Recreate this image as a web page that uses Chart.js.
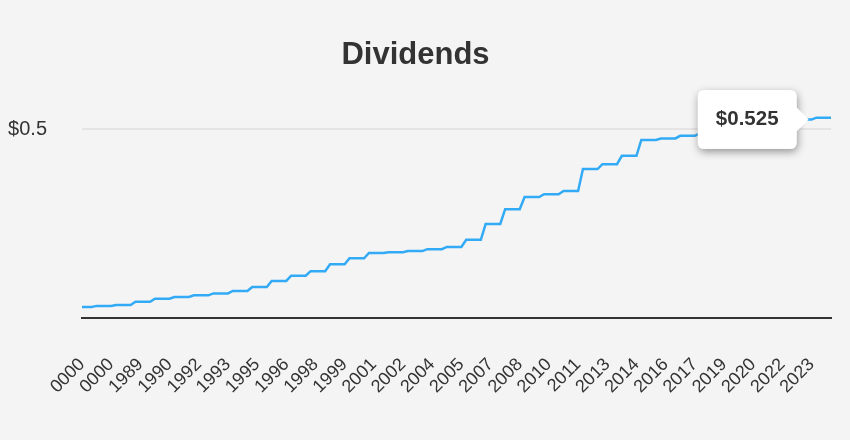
<!DOCTYPE html>
<html>
<head>
<meta charset="utf-8">
<script src="https://cdn.jsdelivr.net/npm/chart.js@4.4.1/dist/chart.umd.min.js"></script>
<style>
  html, body { margin: 0; padding: 0; background: #f4f4f4; }
  #wrap { width: 850px; height: 440px; }
</style>
</head>
<body>
<div id="wrap"><canvas id="c" width="850" height="440"></canvas></div>
<script>
const titleText = 'Dividends';

const labels = [
  '0000','0000','0000','0000','0000','0000','0000','0000','0000','0000','0000','0000',
  '1989','1989','1989','1989','1990','1990','1990','1990','1991','1991','1991','1991',
  '1992','1992','1992','1992','1993','1993','1993','1993','1994','1994','1994','1994',
  '1995','1995','1995','1995','1996','1996','1996','1996','1997','1997','1997','1997',
  '1998','1998','1998','1998','1999','1999','1999','1999','2000','2000','2000','2000',
  '2001','2001','2001','2001','2002','2002','2002','2002','2003','2003','2003','2003',
  '2004','2004','2004','2004','2005','2005','2005','2005','2006','2006','2006','2006',
  '2007','2007','2007','2007','2008','2008','2008','2008','2009','2009','2009','2009',
  '2010','2010','2010','2010','2011','2011','2011','2011','2012','2012','2012','2012',
  '2013','2013','2013','2013','2014','2014','2014','2014','2015','2015','2015','2015',
  '2016','2016','2016','2016','2017','2017','2017','2017','2018','2018','2018','2018',
  '2019','2019','2019','2019','2020','2020','2020','2020','2021','2021','2021','2021',
  '2022','2022','2022','2022','2023','2023','2023','2023','2024','2024','2024'
];

const dividends = [
  0.029, 0.029, 0.029,
  0.032, 0.032, 0.032, 0.032,
  0.0345, 0.0345, 0.0345, 0.0345,
  0.043, 0.043, 0.043, 0.043,
  0.051, 0.051, 0.051, 0.051,
  0.0555, 0.0555, 0.0555, 0.0555,
  0.06, 0.06, 0.06, 0.06,
  0.065, 0.065, 0.065, 0.065,
  0.0715, 0.0715, 0.0715, 0.0715,
  0.082, 0.082, 0.082, 0.082,
  0.098, 0.098, 0.098, 0.098,
  0.112, 0.112, 0.112, 0.112,
  0.124, 0.124, 0.124, 0.124,
  0.142, 0.142, 0.142, 0.142,
  0.158, 0.158, 0.158, 0.158,
  0.172, 0.172, 0.172, 0.172,
  0.174, 0.174, 0.174, 0.174,
  0.177, 0.177, 0.177, 0.177,
  0.182, 0.182, 0.182, 0.182,
  0.188, 0.188, 0.188, 0.188,
  0.207, 0.207, 0.207, 0.207,
  0.249, 0.249, 0.249, 0.249,
  0.288, 0.288, 0.288, 0.288,
  0.32, 0.32, 0.32, 0.32,
  0.3275, 0.3275, 0.3275, 0.3275,
  0.336, 0.336, 0.336, 0.336,
  0.394, 0.394, 0.394, 0.394,
  0.407, 0.407, 0.407, 0.407,
  0.429, 0.429, 0.429, 0.429,
  0.471, 0.471, 0.471, 0.471,
  0.475, 0.475, 0.475, 0.475,
  0.482, 0.482, 0.482, 0.482,
  0.488, 0.488, 0.488, 0.488,
  0.495, 0.495, 0.495, 0.495,
  0.503, 0.503, 0.503, 0.503,
  0.51, 0.51, 0.51, 0.51,
  0.518, 0.518, 0.518, 0.518,
  0.525, 0.525, 0.525, 0.525,
  0.53, 0.53, 0.53, 0.53
];

const yTickValues = [0.5];
const activeIndex = 150;

Chart.defaults.font.family = "'Liberation Sans', Arial, Helvetica, sans-serif";

function roundRectPath(ctx, x, y, w, h, r) {
  ctx.beginPath();
  ctx.moveTo(x + r, y);
  ctx.lineTo(x + w - r, y);
  ctx.quadraticCurveTo(x + w, y, x + w, y + r);
  ctx.lineTo(x + w, y + h - r);
  ctx.quadraticCurveTo(x + w, y + h, x + w - r, y + h);
  ctx.lineTo(x + r, y + h);
  ctx.quadraticCurveTo(x, y + h, x, y + h - r);
  ctx.lineTo(x, y + r);
  ctx.quadraticCurveTo(x, y, x + r, y);
  ctx.closePath();
}

const shadowPlugin = {
  id: 'tooltipShadow',
  beforeTooltipDraw(chart, args) {
    const t = args.tooltip;
    if (!t || !t.opacity) return;
    const ctx = chart.ctx;
    ctx.save();
    ctx.shadowColor = 'rgba(0,0,0,0.4)';
    ctx.shadowBlur = 8;
    ctx.shadowOffsetX = 1;
    ctx.shadowOffsetY = 3;
    ctx.fillStyle = '#ffffff';
    roundRectPath(ctx, t.x, t.y, t.width, t.height, 6);
    ctx.fill();
    ctx.restore();
  }
};

const chart = new Chart(document.getElementById('c'), {
  type: 'line',
  data: {
    labels: labels,
    datasets: [{
      data: dividends,
      borderColor: '#33aaf5',
      borderWidth: 2.5,
      pointRadius: 0,
      pointHoverRadius: 0,
      pointHitRadius: 0,
      tension: 0,
      fill: false
    }]
  },
  options: {
    responsive: false,
    animation: false,
    events: [],
    layout: { padding: { left: 0, right: 19, top: 0, bottom: 0 } },
    plugins: {
      legend: { display: false },
      title: {
        display: true,
        text: titleText,
        color: '#333333',
        font: { size: 31, weight: 'bold' },
        padding: { top: 37, bottom: 17 }
      },
      tooltip: {
        enabled: true,
        backgroundColor: '#ffffff',
        bodyColor: '#333333',
        bodyFont: { size: 20.5, weight: 'bold' },
        padding: { top: 17, bottom: 17, left: 18, right: 18 },
        caretSize: 12,
        caretPadding: 3,
        cornerRadius: 6,
        displayColors: false,
        xAlign: 'right',
        yAlign: 'center',
        callbacks: {
          title: () => '',
          label: (c) => '$' + c.parsed.y
        }
      }
    },
    scales: {
      x: {
        grid: { display: false, drawTicks: false },
        border: { display: true, color: '#333333', width: 2 },
        ticks: {
          autoSkip: false,
          minRotation: 45,
          maxRotation: 45,
          padding: 36,
          color: '#333333',
          font: { size: 18 },
          callback: (v, i) => (i % 6 === 0 ? labels[i] : '')
        },
        afterFit: (s) => { s.height = 122; s.paddingRight = 0; s.paddingLeft = 0; }
      },
      y: {
        min: 0,
        max: 0.6,
        afterBuildTicks: (s) => { s.ticks = yTickValues.map(v => ({ value: v })); },
        grid: { color: '#e4e4e4', lineWidth: 2, drawTicks: false },
        border: { display: false },
        ticks: {
          padding: 35,
          color: '#333333',
          font: { size: 20 },
          callback: (v) => '$' + v
        },
        afterFit: (s) => { s.width = 82; }
      }
    }
  },
  plugins: [shadowPlugin]
});

chart.tooltip.setActiveElements([{ datasetIndex: 0, index: activeIndex }], { x: 0, y: 0 });
chart.update();
</script>
</body>
</html>
